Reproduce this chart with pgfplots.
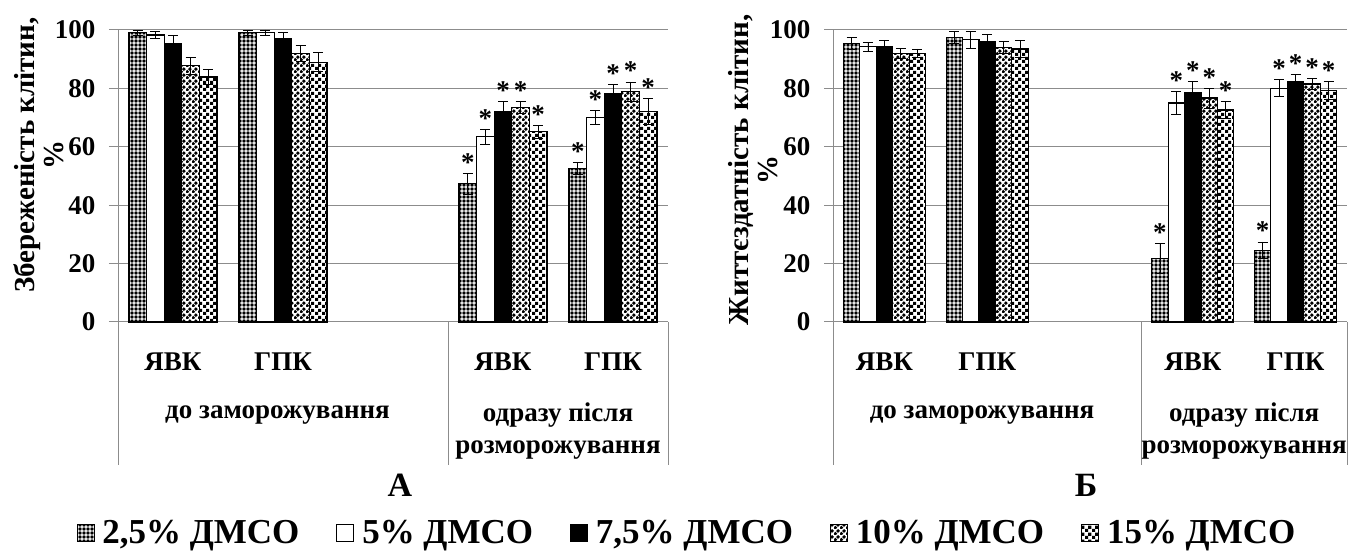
\documentclass[border=0pt]{standalone}
\usepackage{pgfplots}
\pgfplotsset{compat=1.18}
\usepackage{pgfplotstable}
\usepackage{fontspec}
\setmainfont{Liberation Serif}
\usetikzlibrary{patterns}
\definecolor{gridgray}{RGB}{140,140,140}
\newcommand{\tf}{\fontsize{27}{32}\selectfont\bfseries}
\newcommand{\lf}{\fontsize{29}{29}\selectfont\bfseries}
\newcommand{\legf}{\fontsize{35}{38}\selectfont\bfseries}
\newcommand{\bigf}{\fontsize{34}{36}\selectfont\bfseries}

\pgfdeclarepatternformonly{rings}{\pgfpoint{-1pt}{-1pt}}{\pgfpoint{5pt}{5pt}}{\pgfpoint{4pt}{4pt}}{%
  \pgfsetlinewidth{0.9pt}%
  \pgfpathcircle{\pgfpoint{2pt}{2pt}}{1.2pt}%
  \pgfusepath{stroke}}
\pgfdeclarepatternformonly{diams}{\pgfpoint{0pt}{0pt}}{\pgfpoint{6pt}{6pt}}{\pgfpoint{6pt}{6pt}}{%
  \pgfpathmoveto{\pgfpoint{1.5pt}{-0.7pt}}\pgfpathlineto{\pgfpoint{3.7pt}{1.5pt}}%
  \pgfpathlineto{\pgfpoint{1.5pt}{3.7pt}}\pgfpathlineto{\pgfpoint{-0.7pt}{1.5pt}}\pgfpathclose
  \pgfpathmoveto{\pgfpoint{4.5pt}{2.3pt}}\pgfpathlineto{\pgfpoint{6.7pt}{4.5pt}}%
  \pgfpathlineto{\pgfpoint{4.5pt}{6.7pt}}\pgfpathlineto{\pgfpoint{2.3pt}{4.5pt}}\pgfpathclose
  \pgfusepath{fill}}
\pgfdeclarepatternformonly{checks}{\pgfpoint{0pt}{0pt}}{\pgfpoint{7pt}{7pt}}{\pgfpoint{7pt}{7pt}}{%
  \pgfpathrectangle{\pgfpoint{0pt}{0pt}}{\pgfpoint{3.5pt}{3.5pt}}%
  \pgfpathrectangle{\pgfpoint{3.5pt}{3.5pt}}{\pgfpoint{3.5pt}{3.5pt}}%
  \pgfusepath{fill}}

% Panel A
\pgfplotstableread{
x y e m
0 99.0 0.8 {}
1 99.0 0.8 {}
3 47.3 3.5 *
4 52.6 2.0 *
}\Aa
\pgfplotstableread{
x y e m
0 98.3 1.3 {}
1 99.0 1.0 {}
3 63.4 2.6 *
4 70.1 2.4 *
}\Ab
\pgfplotstableread{
x y e m
0 95.5 2.7 {}
1 97.2 2.0 {}
3 72.0 3.4 *
4 78.4 3.0 *
}\Ac
\pgfplotstableread{
x y e m
0 87.7 3.0 {}
1 92.0 2.8 {}
3 73.4 2.0 *
4 78.9 3.3 *
}\Ad
\pgfplotstableread{
x y e m
0 83.9 2.5 {}
1 89.0 3.2 {}
3 65.1 2.3 *
4 72.2 4.4 *
}\Ae
% Panel B
\pgfplotstableread{
x y e m
0 95.5 2.0 {}
1 97.5 2.0 {}
3 21.8 5.2 *
4 24.6 2.8 *
}\Ba
\pgfplotstableread{
x y e m
0 94.3 1.5 {}
1 96.6 3.0 {}
3 75.0 3.8 *
4 80.1 3.0 *
}\Bb
\pgfplotstableread{
x y e m
0 94.3 2.0 {}
1 96.0 2.4 {}
3 78.6 3.8 *
4 82.5 2.4 *
}\Bc
\pgfplotstableread{
x y e m
0 92.0 1.7 {}
1 94.0 2.0 {}
3 76.7 3.4 *
4 81.5 2.0 *
}\Bd
\pgfplotstableread{
x y e m
0 92.0 1.5 {}
1 93.5 3.0 {}
3 72.6 2.8 *
4 79.4 3.0 *
}\Be

\pgfplotsset{
  panel/.style={
    scale only axis, height=292pt, anchor=south west,
    xmin=-0.5, xmax=4.5, ymin=0, ymax=100, enlargelimits=false,
    ybar=0pt, bar width=0.16,
    axis x line*=bottom, axis y line*=left,
    axis line style={draw=gridgray, line width=1pt},
    ymajorgrids, grid style={draw=gridgray, line width=1pt},
    ytick={0,20,...,100}, xtick={0,1,3,4}, xticklabels={ЯВК,ГПК,ЯВК,ГПК},
    xtick style={draw=none}, ytick style={draw=gridgray, line width=1pt},
    tick align=outside, major tick length=9pt,
    ticklabel style={font=\tf}, /pgf/number format/assume math mode=true,
    xticklabel style={yshift=-18pt},
    yticklabel style={xshift=-10pt},
    clip=false,
  },
  bars/.style={draw=black, line width=1.1pt,
    error bars/.cd, y dir=both, y explicit,
    error bar style={black, line width=0.8pt},
    error mark options={rotate=90, mark size=5pt, black, line width=0.8pt},
    /pgfplots/.cd,
    point meta=explicit symbolic,
    nodes near coords,
    visualization depends on={\thisrow{e}\as\mye},
    every node near coord/.append style={anchor=base, yshift=\mye*2.92pt+2pt, font=\tf, inner sep=0pt, black},
    legend image code/.code={\draw[##1,draw=black,line width=0.8pt] (0pt,-9pt) rectangle (17pt,8pt);},
  },
  p25/.style={bars, fill=black, postaction={pattern=rings, pattern color=white}},
  p5/.style={bars, fill=white},
  p75/.style={bars, fill=black},
  p10/.style={bars, fill=white, postaction={pattern=diams, pattern color=black}},
  p15/.style={bars, fill=white, postaction={pattern=checks, pattern color=black}},
}

\begin{document}
\begin{tikzpicture}
\useasboundingbox (0,0) rectangle (1356pt,553pt);
\begin{axis}[panel, at={(118pt,231pt)}, width=550pt,
  legend style={at={(axis description cs:1.0345,-0.722)}, anchor=center, draw=none, fill=none,
    legend columns=5, font=\legf, /tikz/every even column/.append style={column sep=35pt},
    /tikz/every odd column/.append style={column sep=6pt}},
]
\addplot[p25] table[x=x,y=y,y error=e,meta=m]{\Aa};
\addplot[p5] table[x=x,y=y,y error=e,meta=m]{\Ab};
\addplot[p75] table[x=x,y=y,y error=e,meta=m]{\Ac};
\addplot[p10] table[x=x,y=y,y error=e,meta=m]{\Ad};
\addplot[p15] table[x=x,y=y,y error=e,meta=m]{\Ae};
\legend{{2,5\% ДМСО}, {5\% ДМСО}, {7,5\% ДМСО}, {10\% ДМСО}, {15\% ДМСО}}
\draw[gridgray, line width=1pt] (axis cs:-0.5,0) -- ([yshift=-143pt]axis cs:-0.5,0);
\draw[gridgray, line width=1pt] (axis cs:2.5,0) -- ([yshift=-143pt]axis cs:2.5,0);
\draw[gridgray, line width=1pt] (axis cs:4.5,0) -- ([yshift=-143pt]axis cs:4.5,0);
\node[font=\tf] at ([yshift=-93pt]axis cs:0.95,0) {до заморожування};
\node[font=\tf, align=center] at ([yshift=-109pt]axis cs:3.5,0) {одразу після\\розморожування};
\end{axis}
\begin{axis}[panel, at={(833pt,231pt)}, width=514pt]
\addplot[p25] table[x=x,y=y,y error=e,meta=m]{\Ba};
\addplot[p5] table[x=x,y=y,y error=e,meta=m]{\Bb};
\addplot[p75] table[x=x,y=y,y error=e,meta=m]{\Bc};
\addplot[p10] table[x=x,y=y,y error=e,meta=m]{\Bd};
\addplot[p15] table[x=x,y=y,y error=e,meta=m]{\Be};
\draw[gridgray, line width=1pt] (axis cs:-0.5,0) -- ([yshift=-143pt]axis cs:-0.5,0);
\draw[gridgray, line width=1pt] (axis cs:2.5,0) -- ([yshift=-143pt]axis cs:2.5,0);
\draw[gridgray, line width=1pt] (axis cs:4.5,0) -- ([yshift=-143pt]axis cs:4.5,0);
\node[font=\tf] at ([yshift=-93pt]axis cs:0.95,0) {до заморожування};
\node[font=\tf, align=center] at ([yshift=-109pt]axis cs:3.5,0) {одразу після\\розморожування};
\end{axis}
\node[rotate=90, align=center, font=\lf] at (39pt,398pt) {Збереженість клітин,\\\%};
\node[rotate=90, align=center, font=\lf] at (753pt,383pt) {Життєздатність клітин,\\\%};
\node[font=\bigf] at (400pt,68pt) {А};
\node[font=\bigf] at (1086pt,68pt) {Б};
\end{tikzpicture}
\end{document}
